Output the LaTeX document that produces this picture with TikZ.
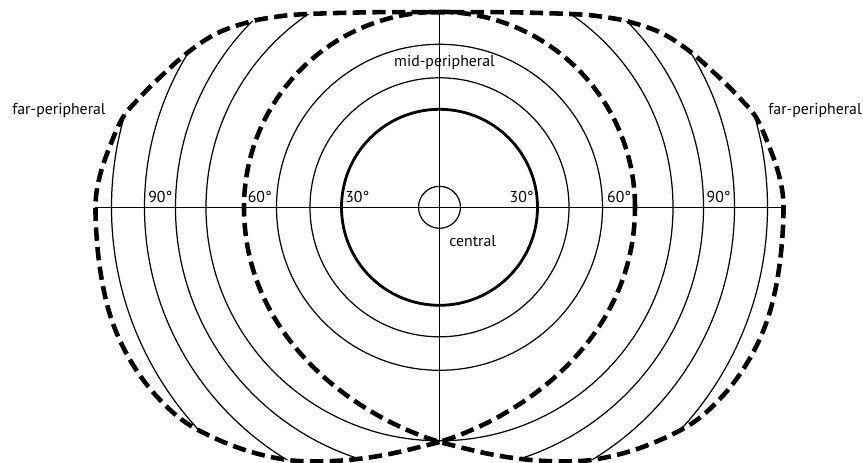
\documentclass[tikz,border=0pt]{standalone}
\usepackage{fontspec}
\setmainfont{PT Sans}
\usetikzlibrary{positioning}

\tikzset{
  ring/.style={line width=0.7pt},
  axisline/.style={line width=0.6pt},
  fovea/.style={line width=1.6pt},
  bound/.style={line width=2.6pt, dash pattern=on 7.6pt off 3.6pt},
  fieldtext/.style={inner sep=0pt, font=\fontsize{9}{10}\selectfont},
}

% outline of the whole field (left half, then right half)
\newcommand{\fieldoutline}{plot[smooth, tension=0.6] coordinates {(0,-234.7) (-46.5,-246) (-84.5,-252) (-119.5,-254) (-156.5,-252) (-202.5,-240) (-249.5,-218) (-280,-192) (-303,-163) (-321,-130) (-333,-95) (-341,-50) (-344,0) (-340,30) (-330,60) (-316.5,90) (-299.5,110) (-279.5,130) (-251.5,155) (-222.5,174) (-191.5,185) (-166.5,190) (-137,193) (-70,195) (0,195)}
 -- plot[smooth, tension=0.6] coordinates {(0,195) (70,195) (137,193) (166.5,190) (191.5,185) (222.5,174) (251.5,155) (279.5,130) (299.5,110) (316.5,90) (330,60) (340,30) (344,0) (341,-50) (333,-95) (321,-130) (303,-163) (280,-192) (249.5,-218) (202.5,-240) (156.5,-252) (119.5,-254) (84.5,-252) (46.5,-246) (0,-234.7)} -- cycle}

\begin{document}
\begin{tikzpicture}[x=0.2mm, y=0.2mm]
\useasboundingbox (-439.5,-255.7) rectangle (423.5,207.3);

\coordinate (top) at (0,195);
\coordinate (cusp) at (0,-234.7);
\coordinate (west) at (-344,0);
\coordinate (east) at (344,0);

% rings
\foreach \r in {129.5,163} \draw[ring] (0,0) circle[radius=\r];
\begin{scope}
  \clip \fieldoutline;
  \foreach \r in {233.5,264,295,328} \draw[ring] (0,0) circle[radius=\r];
\end{scope}
\draw[ring] (0,0) circle[radius=21];
\draw[fovea] (0,0) circle[radius=98];

% axes
\draw[axisline] (west) -- (east);
\draw[axisline] (top) -- (cusp);

% 60 deg border and outer border
\draw[bound] (195.5,0) arc[start angle=0, end angle=180, radius=195.5]
  .. controls (-195.5,-127) and (-89.5,-207) .. (cusp)
  .. controls (89.5,-207) and (195.5,-127) .. cycle;
\draw[bound] \fieldoutline;

% labels
\foreach \r/\t in {98/30, 195.5/60, 295/90} {
  \coordinate (w\t) at (-\r,0);
  \coordinate (e\t) at (\r,0);
  \node[fieldtext, above right=2.2pt and 2pt of w\t] (degw\t) {\t°};
  \node[fieldtext, above left=2.2pt and 2pt of e\t] (dege\t) {\t°};
}
\node[fieldtext, anchor=base west] (farleft) at (-427.5,92.3) {far-peripheral};
\node[fieldtext, anchor=base east] (farright) at (422.5,92.3) {far-peripheral};
\node[fieldtext, anchor=base] (midper) at (5,140.6) {mid-peripheral};
\node[fieldtext, anchor=base west] (central) at (9.5,-39.7) {central};
\end{tikzpicture}
\end{document}
